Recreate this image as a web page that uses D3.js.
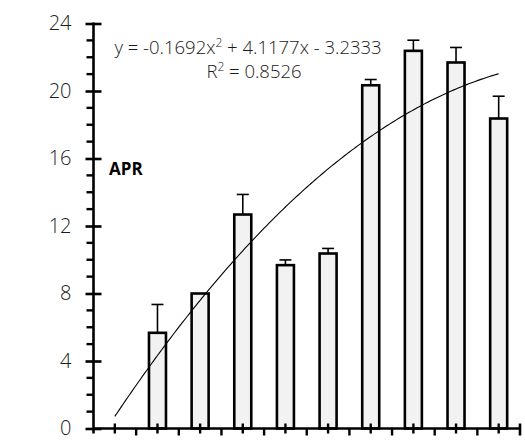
<!DOCTYPE html>
<html><head><meta charset="utf-8">
<script src="https://cdn.jsdelivr.net/npm/d3@7"></script>
<style>
html,body{margin:0;padding:0;background:#fff;}
svg{display:block;}
text{font-family:"Open Sans",sans-serif;}
</style></head>
<body>
<svg id="chart" width="525" height="443"></svg>
<script>
const categories = [1,2,3,4,5,6,7,8,9,10];
const values = [0, 5.67, 8.0, 12.68, 9.68, 10.37, 20.34, 22.38, 21.69, 18.37];
const errors = [0, 1.68, 0, 1.19, 0.31, 0.30, 0.34, 0.63, 0.89, 1.32];
const yTicks = [0,4,8,12,16,20,24];
const trendCoef = [-0.1692, 4.1177, -3.2333]; // a x^2 + b x + c, from the displayed equation
const eqLine1 = ["y = -0.1692x", "2", " + 4.1177x - 3.2333"];
const eqLine2 = ["R", "2", " = 0.8526"];
const yLabel = "APR";

const svg = d3.select("#chart");
const L = 93.5, R = 520, B = 428.5, T = 23.5;

const x = d3.scaleBand().domain(categories).range([L, R]).paddingInner(0).paddingOuter(0);
const xl = d3.scaleLinear().domain([0.5, 10.5]).range([L, R]);
const y = d3.scaleLinear().domain([0, 24]).range([B, T]);
const bw = 17;

// trendline
const trendX = d3.range(1, 10.001, 0.05);
const line = d3.line().x(d => xl(d)).y(d => y(trendCoef[0]*d*d + trendCoef[1]*d + trendCoef[2]));

// bars
svg.append("g").selectAll("rect").data(categories.filter((c,i)=>values[i]>0)).join("rect")
  .attr("x", c => x(c) + x.bandwidth()/2 - bw/2)
  .attr("y", c => y(values[c-1]))
  .attr("width", bw)
  .attr("height", c => y(0) - y(values[c-1]))
  .attr("fill", "#f2f2f2").attr("stroke", "#000").attr("stroke-width", 2.6);

// error bars
const eg = svg.append("g").attr("stroke", "#000").attr("stroke-width", 1.6);
categories.forEach((c,i) => {
  if (errors[i] <= 0) return;
  const cx = x(c) + x.bandwidth()/2;
  eg.append("line").attr("x1", cx).attr("x2", cx).attr("y1", y(values[i])).attr("y2", y(values[i]+errors[i]));
  eg.append("line").attr("x1", cx-6).attr("x2", cx+6).attr("y1", y(values[i]+errors[i])).attr("y2", y(values[i]+errors[i]));
});

svg.append("path").datum(trendX).attr("d", line).attr("fill", "none").attr("stroke", "#000").attr("stroke-width", 1.1);

// y axis
const yAxis = d3.axisLeft(y).tickValues(yTicks).tickSize(8).tickPadding(14).tickFormat(d3.format("d"));
const gy = svg.append("g").attr("transform", `translate(${L},0)`).call(yAxis);
gy.select(".domain").remove();
gy.selectAll(".tick line").attr("stroke", "#000").attr("stroke-width", 2.6).attr("x1", 8);
gy.selectAll(".tick text").attr("font-size", 20).attr("fill", "#1a1a1a").attr("x", -22).style("font-weight", 300);
gy.append("line").attr("x1", 0).attr("x2", 0).attr("y1", T - 1).attr("y2", B + 5).attr("stroke", "#000").attr("stroke-width", 2.6);
// minor ticks
const minor = d3.range(0, 25).filter(v => v % 4 !== 0);
gy.selectAll(".minor").data(minor).join("line").attr("class", "minor")
  .attr("x1", -7).attr("x2", 0).attr("y1", d => y(d)).attr("y2", d => y(d))
  .attr("stroke", "#000").attr("stroke-width", 2.4);

// x axis
const gx = svg.append("g");
gx.append("line").attr("x1", L).attr("x2", R).attr("y1", B).attr("y2", B).attr("stroke", "#000").attr("stroke-width", 2.6);
gx.selectAll(".ct").data(categories).join("line").attr("class", "ct")
  .attr("x1", c => x(c) + x.bandwidth()/2).attr("x2", c => x(c) + x.bandwidth()/2)
  .attr("y1", B - 5).attr("y2", B + 5).attr("stroke", "#000").attr("stroke-width", 2.4);
gx.selectAll(".bt").data(categories.slice(1)).join("line").attr("class", "bt")
  .attr("x1", c => x(c)).attr("x2", c => x(c))
  .attr("y1", B).attr("y2", B + 7).attr("stroke", "#000").attr("stroke-width", 2.4);
gx.append("line").attr("x1", R).attr("x2", R).attr("y1", B - 5).attr("y2", B + 7).attr("stroke", "#000").attr("stroke-width", 2.6);

// equation
const eq = svg.append("g").attr("font-size", 18.5).attr("fill", "#1a1a1a").style("font-weight", 300);
function eqText(parts, cx, by) {
  const t = eq.append("text").attr("x", cx).attr("y", by).attr("text-anchor", "middle");
  t.append("tspan").text(parts[0]);
  t.append("tspan").attr("dy", -7).attr("font-size", 12).text(parts[1]);
  t.append("tspan").attr("dy", 7).text(parts[2]);
}
eqText(eqLine1, 248, 54);
eqText(eqLine2, 254, 78);

svg.append("text").attr("x", 109).attr("y", 175).attr("font-size", 17).attr("font-weight", "bold").attr("fill", "#000").text(yLabel);
</script>
</body></html>
